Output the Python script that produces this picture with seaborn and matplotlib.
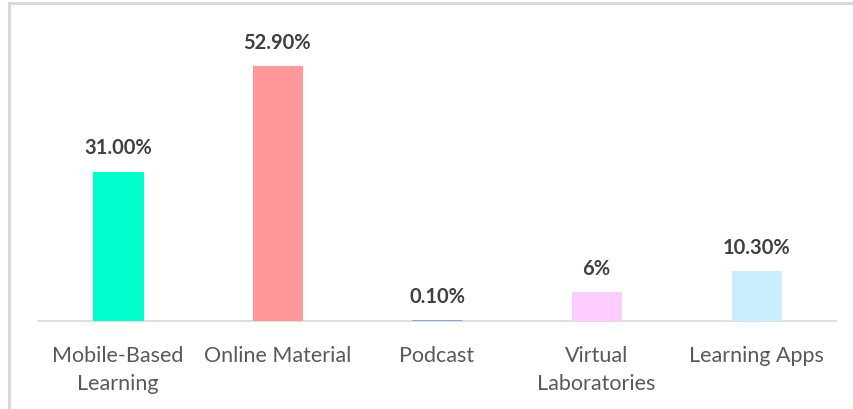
import matplotlib
matplotlib.use("Agg")
import matplotlib.pyplot as plt
import seaborn as sns
import pandas as pd
from matplotlib.patches import Rectangle

categories = ["Mobile-Based\nLearning", "Online Material", "Podcast", "Virtual\nLaboratories", "Learning Apps"]
values = [31.0, 52.9, 0.1, 6.0, 10.3]
value_labels = ["31.00%", "52.90%", "0.10%", "6%", "10.30%"]
bar_colors = ["#00FFCC", "#FF9999", "#7F9FD6", "#FFCCFF", "#CCECFF"]

sns.set_style("white")
plt.rcParams["font.family"] = ["Lato", "DejaVu Sans"]

data = pd.DataFrame({"category": categories, "value": values})

fig = plt.figure(figsize=(8.54, 4.10), dpi=100)
ax = fig.add_axes([0.0445, 0.2146, 0.9345, 0.705])

sns.barplot(data=data, x="category", y="value", hue="category", palette=bar_colors,
            width=0.31, legend=False, ax=ax, saturation=1)

# keep the tiny podcast bar visible as a thin line above the axis
for bar, c, v in zip(ax.patches, bar_colors, values):
    bar.set_edgecolor(c)
    bar.set_linewidth(2.0 if v < 1 else 0.8)
    bar.set_zorder(3)

ax.set_ylim(0, 60)
ax.set_xlim(-0.5, 4.5)
ax.set_xlabel("")
ax.set_ylabel("")
ax.set_yticks([])
for side in ["top", "right", "left"]:
    ax.spines[side].set_visible(False)
ax.spines["bottom"].set_color("#D9D9D9")
ax.spines["bottom"].set_linewidth(1.2)
ax.tick_params(axis="x", length=0, pad=17, labelsize=15.5, labelcolor="#595959")
for t in ax.get_xticklabels():
    t.set_linespacing(1.5)

for i, (v, lab) in enumerate(zip(values, value_labels)):
    ax.text(i, v + 3.0, lab, ha="center", va="bottom", fontsize=14.5,
            fontweight="bold", color="#404040")

# chart frame
fig.patches.append(Rectangle((9 / 854, -0.05), 1.2, (406 / 410) + 0.05,
                             transform=fig.transFigure, fill=False,
                             edgecolor="#D9D9D9", linewidth=2.2))

plt.savefig("out.png", dpi=100)
plt.close()
